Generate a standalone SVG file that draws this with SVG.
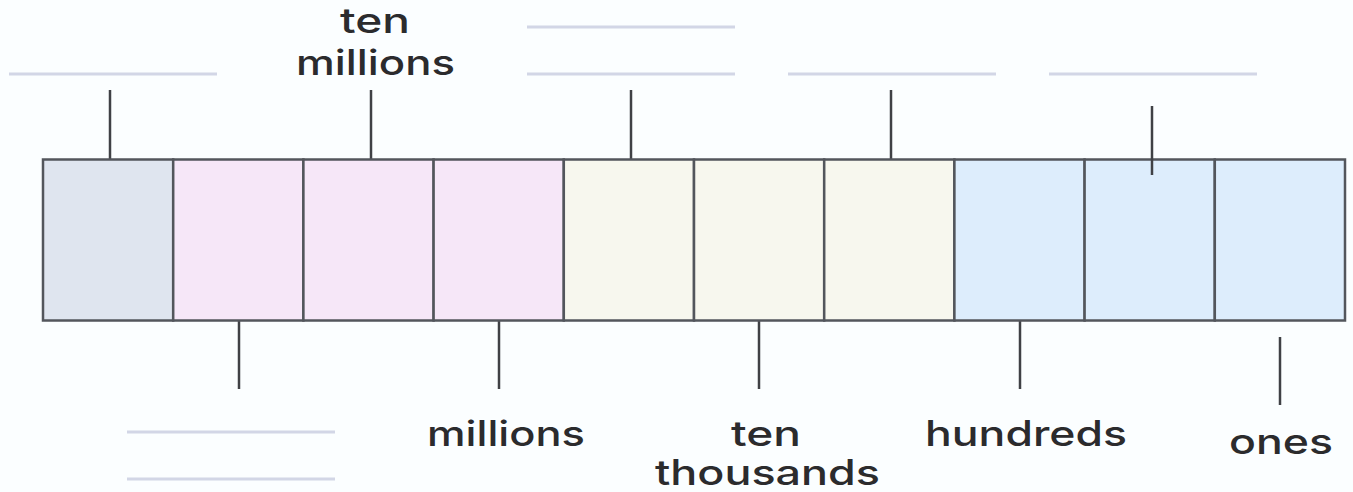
<svg xmlns="http://www.w3.org/2000/svg" width="1353" height="492" viewBox="0 0 1353 492">
<style>
.cell{stroke:#53565c;stroke-width:2.5}
.c1{fill:#dfe5ef}.c2{fill:#f6e7f8}.c3{fill:#f7f7ee}.c4{fill:#ddedfc}
.tick{stroke:#3f4145;stroke-width:2.5;fill:none}
.blank{stroke:#d2d6e6;stroke-width:3;fill:none}
.lbl{font-family:Inter,"Liberation Sans",sans-serif;font-size:35px;font-weight:500;fill:#2b2b2d;text-anchor:middle}
</style>
<rect width="1353" height="492" fill="#fbfeff"/>
<g id="connectors">
<line class="tick" x1="110" y1="90" x2="110" y2="159"/>
<line class="tick" x1="371" y1="90" x2="371" y2="159"/>
<line class="tick" x1="631" y1="90" x2="631" y2="159"/>
<line class="tick" x1="891" y1="90" x2="891" y2="159"/>
<line class="tick" x1="239" y1="320" x2="239" y2="389"/>
<line class="tick" x1="499" y1="320" x2="499" y2="389"/>
<line class="tick" x1="759" y1="320" x2="759" y2="389"/>
<line class="tick" x1="1020" y1="320" x2="1020" y2="389"/>
<line class="tick" x1="1280" y1="337" x2="1280" y2="405"/>
</g>
<g id="place-value-chart">
<rect class="cell c1" x="43" y="159.5" width="130.2" height="161"/>
<rect class="cell c2" x="173.2" y="159.5" width="130.2" height="161"/>
<rect class="cell c2" x="303.4" y="159.5" width="130.2" height="161"/>
<rect class="cell c2" x="433.6" y="159.5" width="130.2" height="161"/>
<rect class="cell c3" x="563.8" y="159.5" width="130.2" height="161"/>
<rect class="cell c3" x="694" y="159.5" width="130.2" height="161"/>
<rect class="cell c3" x="824.2" y="159.5" width="130.2" height="161"/>
<rect class="cell c4" x="954.4" y="159.5" width="130.2" height="161"/>
<rect class="cell c4" x="1084.6" y="159.5" width="130.2" height="161"/>
<rect class="cell c4" x="1214.8" y="159.5" width="130.2" height="161"/>
</g>
<g id="tick-hundred-thousands-top">
<line class="tick" x1="1152" y1="106" x2="1152" y2="175"/>
</g>
<g id="label-billions-blank"><line class="blank" x1="9" y1="74" x2="217" y2="74"/></g>
<g id="label-ten-millions"><text class="lbl" x="375" y="33" textLength="70" lengthAdjust="spacingAndGlyphs">ten</text><text class="lbl" x="375.5" y="75" textLength="159" lengthAdjust="spacingAndGlyphs">millions</text></g>
<g id="label-hundred-thousands-blank"><line class="blank" x1="527" y1="27" x2="735" y2="27"/><line class="blank" x1="527" y1="74" x2="735" y2="74"/></g>
<g id="label-thousands-blank"><line class="blank" x1="788" y1="74" x2="996" y2="74"/></g>
<g id="label-tens-blank"><line class="blank" x1="1049" y1="74" x2="1257" y2="74"/></g>
<g id="label-hundred-millions-blank"><line class="blank" x1="127" y1="432" x2="335" y2="432"/><line class="blank" x1="127" y1="479" x2="335" y2="479"/></g>
<g id="label-millions"><text class="lbl" x="506" y="446" textLength="158" lengthAdjust="spacingAndGlyphs">millions</text></g>
<g id="label-ten-thousands"><text class="lbl" x="766" y="446" textLength="70" lengthAdjust="spacingAndGlyphs">ten</text><text class="lbl" x="767.5" y="485" textLength="225" lengthAdjust="spacingAndGlyphs">thousands</text></g>
<g id="label-hundreds"><text class="lbl" x="1026" y="446" textLength="202" lengthAdjust="spacingAndGlyphs">hundreds</text></g>
<g id="label-ones"><text class="lbl" x="1281" y="454" textLength="104" lengthAdjust="spacingAndGlyphs">ones</text></g>
</svg>
